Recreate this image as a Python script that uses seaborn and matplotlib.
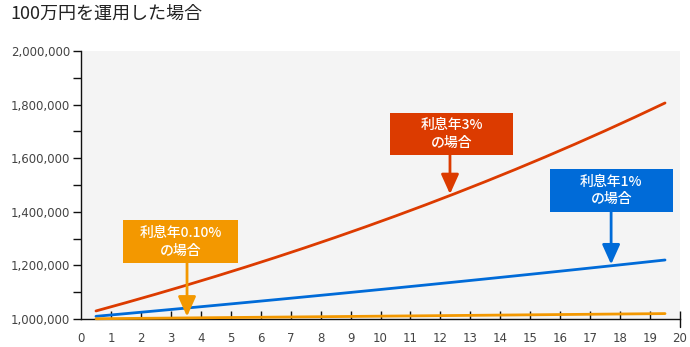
import numpy as np
import pandas as pd
import matplotlib
matplotlib.use("Agg")
import matplotlib.pyplot as plt
from matplotlib.patches import Rectangle
from matplotlib.lines import Line2D
from matplotlib.ticker import MultipleLocator, FuncFormatter
import seaborn as sns

# Balance of 1,000,000 yen after each year, for three annual interest rates
years = list(range(1, 21))
rate_3pct = [1030000, 1060900, 1092727, 1125509, 1159274, 1194052, 1229874,
             1266770, 1304773, 1343916, 1384234, 1425761, 1468534, 1512590,
             1557967, 1604706, 1652848, 1702433, 1753506, 1806111]
rate_1pct = [1010000, 1020100, 1030301, 1040604, 1051010, 1061520, 1072135,
             1082857, 1093685, 1104622, 1115668, 1126825, 1138093, 1149474,
             1160969, 1172579, 1184304, 1196147, 1208109, 1220190]
rate_01pct = [1001000, 1002001, 1003003, 1004006, 1005010, 1006015, 1007021,
              1008028, 1009036, 1010045, 1011055, 1012066, 1013078, 1014091,
              1015105, 1016120, 1017136, 1018153, 1019171, 1020190]

title = "100万円を運用した場合"
labels = ["利息年3%\nの場合", "利息年1%\nの場合", "利息年0.10%\nの場合"]
x_ticks = list(range(0, 21))
y_ticks = [1000000, 1200000, 1400000, 1600000, 1800000, 2000000]

RED = "#dc3b00"
BLUE = "#006bd8"
ORANGE = "#f39800"

sns.set_theme(style="white")
plt.rcParams["font.family"] = ["Noto Sans CJK JP", "DejaVu Sans"]

fig = plt.figure(figsize=(6.9, 3.47), dpi=100)
ax = fig.add_axes([81 / 690, 28 / 347, 599 / 690, 268 / 347])
ax.set_facecolor("#f4f4f4")

# each year is drawn at the centre of its unit slot
pos = np.array(years) - 0.5
df = pd.DataFrame({
    "pos": np.concatenate([pos, pos, pos]),
    "value": rate_3pct + rate_1pct + rate_01pct,
    "series": ["3%"] * 20 + ["1%"] * 20 + ["0.1%"] * 20,
})
sns.lineplot(data=df, x="pos", y="value", hue="series",
             palette={"3%": RED, "1%": BLUE, "0.1%": ORANGE},
             linewidth=2.0, legend=False, ax=ax, clip_on=False, zorder=5)

ax.set_xlim(0, 20)
ax.set_ylim(1000000, 2000000)
ax.set_xticks(x_ticks)
ax.set_yticks(y_ticks)
ax.yaxis.set_minor_locator(MultipleLocator(100000))
ax.yaxis.set_major_formatter(FuncFormatter(lambda v, p: f"{int(v):,}"))
ax.set_xlabel("")
ax.set_ylabel("")

for s in ["top", "right"]:
    ax.spines[s].set_visible(False)
for s in ["left", "bottom"]:
    ax.spines[s].set_color("#111111")
    ax.spines[s].set_linewidth(1.0)
    ax.spines[s].set_zorder(4)

ax.tick_params(axis="y", which="both", direction="out", length=6, width=1.0,
               color="#111111", labelsize=8.5, labelcolor="#444444", pad=2, left=True)
ax.tick_params(axis="x", which="major", direction="in", length=6, width=1.0,
               color="#111111", labelsize=8.5, labelcolor="#444444", pad=9, bottom=True)
ax.xaxis.get_major_ticks()[0].tick1line.set_visible(False)
for lab in ax.get_xticklabels() + ax.get_yticklabels():
    lab.set_fontfamily(["DejaVu Sans"])

# small outward mark at the right end of the x axis
ax.add_line(Line2D([1, 1], [0, -0.03], transform=ax.transAxes, color="#111111",
                   linewidth=1.0, clip_on=False))

fig.text(10 / 690, 1 - 14 / 347, title, fontsize=13, color="#222222",
         va="center", ha="left")

# callout boxes with arrows pointing at each line
callouts = [
    (labels[0], RED, (0.516, 0.612, 0.205, 0.157), 12.32, rate_3pct),
    (labels[1], BLUE, (0.783, 0.399, 0.205, 0.161), 17.70, rate_1pct),
    (labels[2], ORANGE, (0.070, 0.209, 0.192, 0.160), 3.54, rate_01pct),
]
for text, color, (bx, by, bw, bh), ax_x, series in callouts:
    ax.add_patch(Rectangle((bx, by), bw, bh, transform=ax.transAxes,
                           facecolor=color, edgecolor="none", zorder=6,
                           clip_on=False))
    ax.text(bx + bw / 2, by + bh / 2, text, transform=ax.transAxes,
            ha="center", va="center", color="white", fontsize=10,
            fontweight="medium", linespacing=1.35, zorder=7)
    tip_y = np.interp(ax_x, pos, series)
    ax.annotate("", xy=(ax_x, tip_y), xycoords="data",
                xytext=(ax_x, by), textcoords=("data", "axes fraction"),
                arrowprops=dict(arrowstyle="-|>,head_length=1.0,head_width=0.45",
                                color=color, linewidth=2.0, shrinkA=0, shrinkB=1),
                zorder=7, annotation_clip=False)

fig.savefig("out.png", dpi=100)
